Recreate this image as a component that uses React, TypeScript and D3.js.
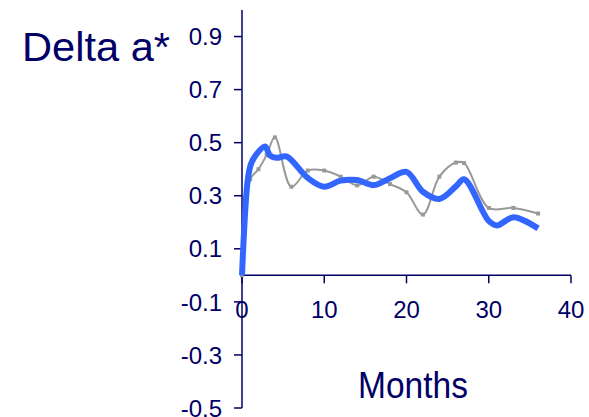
import React from "react";
import * as d3 from "d3";

const yTicks = [-0.5, -0.3, -0.1, 0.1, 0.3, 0.5, 0.7, 0.9];
const xTicks = [0, 10, 20, 30, 40];

const grayMonths = [0, 1, 2, 3, 4, 6, 8, 10, 12, 14, 16, 18, 20, 22, 24, 26, 27, 30, 33, 36];
const grayValues = [0.0, 0.362, 0.4, 0.454, 0.52, 0.334, 0.395, 0.395, 0.372, 0.339, 0.372, 0.344, 0.313, 0.229, 0.372, 0.425, 0.423, 0.254, 0.254, 0.233];

const blueMonths = [0, 0.7, 1.1, 1.7, 2.8, 3.4, 4.2, 5.4, 8, 10, 12, 14, 16, 18, 20, 22, 24, 26, 27, 30, 31, 33, 36];
const blueValues = [0.0, 0.36, 0.42, 0.454, 0.486, 0.452, 0.443, 0.448, 0.367, 0.334, 0.357, 0.359, 0.34, 0.366, 0.39, 0.315, 0.288, 0.335, 0.362, 0.205, 0.188, 0.219, 0.177];

const NAVY = "#000066";

export default function App() {
  const x = d3.scaleLinear().domain([0, 40]).range([242, 571]);
  const y = d3.scaleLinear().domain([-0.5, 1.0]).range([408, 10]);

  const gray = grayMonths.map((m, i) => [m, grayValues[i]] as [number, number]);
  const blue = blueMonths.map((m, i) => [m, blueValues[i]] as [number, number]);

  const line = d3
    .line<[number, number]>()
    .x((d) => x(d[0]))
    .y((d) => y(d[1]))
    .curve(d3.curveCatmullRom.alpha(0.5));

  const font = "Liberation Sans, Arial, Helvetica, sans-serif";

  return (
    <svg
      width={589}
      height={417}
      style={{ position: "absolute", left: 0, top: 0, background: "#fff" }}
      fontFamily={font}
    >
      {/* y axis */}
      <line x1={x(0)} x2={x(0)} y1={y(1.0)} y2={y(-0.5)} stroke={NAVY} strokeWidth={1.5} />
      {yTicks.map((t) => (
        <g key={t}>
          <line x1={x(0) - 8} x2={x(0)} y1={y(t)} y2={y(t)} stroke={NAVY} strokeWidth={1.5} />
          <text
            x={222}
            y={y(t)}
            dy="0.36em"
            textAnchor="end"
            fontSize={24}
            fill={NAVY}
          >
            {t.toFixed(1)}
          </text>
        </g>
      ))}
      {/* x axis */}
      <line x1={x(0)} x2={x(40)} y1={y(0)} y2={y(0)} stroke={NAVY} strokeWidth={1.5} />
      {xTicks.map((t) => (
        <g key={t}>
          <line x1={x(t)} x2={x(t)} y1={y(0)} y2={y(0) + 8} stroke={NAVY} strokeWidth={1.5} />
          <text x={x(t)} y={318} textAnchor="middle" fontSize={24} fill={NAVY}>
            {t}
          </text>
        </g>
      ))}

      {/* gray series */}
      <path d={line(gray) || ""} fill="none" stroke="#999999" strokeWidth={2} />
      {gray.map((d, i) => (
        <rect
          key={i}
          x={x(d[0]) - 2}
          y={y(d[1]) - 2}
          width={4}
          height={4}
          fill="#999999"
        />
      ))}

      {/* blue series */}
      <path d={line(blue) || ""} fill="none" stroke="#3366FF" strokeWidth={6} strokeLinejoin="round" />

      {/* titles */}
      <text x={22} y={61} fontSize={41} fill={NAVY} textLength={148} lengthAdjust="spacingAndGlyphs">
        Delta a*
      </text>
      <text x={358} y={398} fontSize={36} fill={NAVY} textLength={110} lengthAdjust="spacingAndGlyphs">
        Months
      </text>
    </svg>
  );
}
